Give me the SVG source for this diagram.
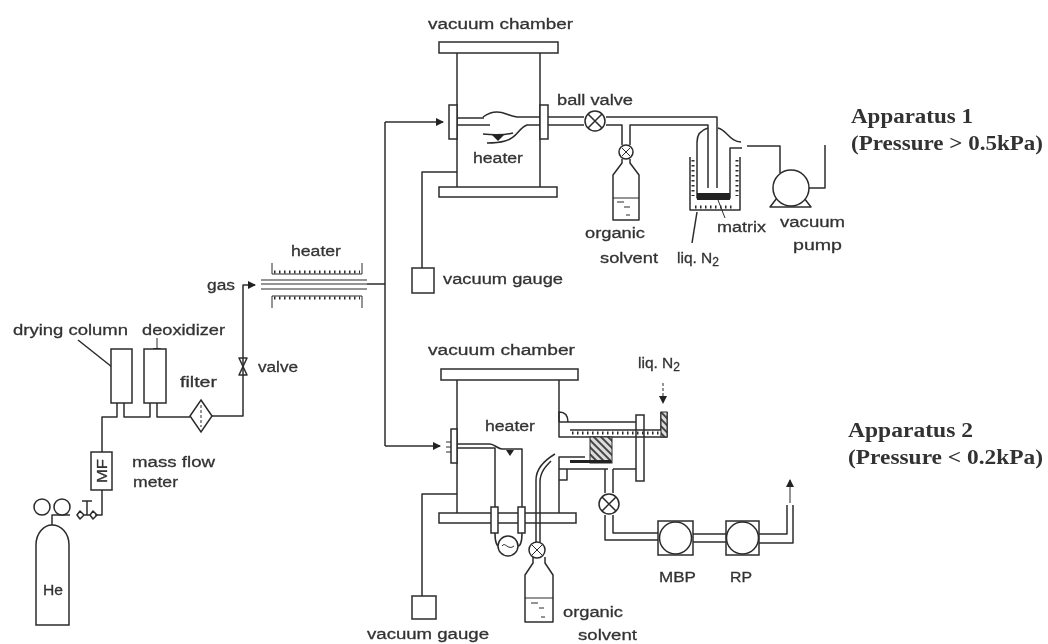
<svg xmlns="http://www.w3.org/2000/svg" width="1048" height="644" viewBox="0 0 1048 644">
<style>
.l{fill:none;stroke:#2b2b2b;stroke-width:1.5;stroke-linejoin:round}
.t{stroke-width:1}
.w{fill:#fff;stroke:#2b2b2b;stroke-width:1.5}
.k{fill:#222;stroke:none}
.d{fill:none;stroke:#2b2b2b;stroke-width:3;stroke-dasharray:1.500 3.500}
text{font-family:"Liberation Sans",Arial,sans-serif;font-size:15.500px;fill:#333;stroke:#333;stroke-width:.3}
.s{font-family:"Liberation Serif","Times New Roman",serif;font-size:20px;fill:#333;font-weight:bold;stroke:none}
</style>
<defs>
<filter id="b" x="0" y="0" width="1048" height="644" filterUnits="userSpaceOnUse"><feGaussianBlur stdDeviation="0.55"/></filter>
<marker id="a" viewBox="0 0 8 8" refX="7" refY="4" markerWidth="8" markerHeight="8" markerUnits="userSpaceOnUse" orient="auto"><path d="M0 0L8 4L0 8Z" fill="#222"/></marker>
<pattern id="h" width="5" height="5" patternUnits="userSpaceOnUse" patternTransform="rotate(-45)"><rect width="5" height="5" fill="#ddd"/><rect width="2" height="5" fill="#444"/></pattern>
<g id="xv"><circle r="10" class="w"/><path class="l" d="M-7 -7L7 7M-7 7L7 -7"/></g>
</defs>
<rect width="1048" height="644" fill="#fff"/>
<g filter="url(#b)">
<g id="connectors">
<path class="l" d="M102 452V417H117V403M124 403V417H150V403M157 403V417H190"/>
<path class="l" marker-end="url(#a)" d="M212 416H243V285H255"/>
<path class="l" d="M102 490V515H95M70 515H52V525"/>
<path class="l" d="M367 284H385M385 122V446"/>
<path class="l" marker-end="url(#a)" d="M385 122H443"/>
<path class="l" marker-end="url(#a)" d="M385 446H440"/>
<path class="l" d="M457 172H422V268"/>
<path class="l" d="M457 494H422V596"/>
<path class="l" d="M747 146H780V173M808 188H825V145"/>
<path class="l t" marker-end="url(#a)" d="M790 503V480"/>
<path class="l" d="M78 340L112 367"/>
<path class="l t" marker-end="url(#a)" d="M157 338V355"/>
<path class="l t" d="M718 200L725 218"/>
<path class="l" d="M697 212L692 243"/>
<path class="l t" stroke-dasharray="3 2" marker-end="url(#a)" d="M663 383V403"/>
</g>
<g id="he-cylinder"><path class="w" d="M36 625V545C36 533 44 525 52 525C61 525 69 533 69 545V625Z"/><text x="43" y="595" textLength="20" lengthAdjust="spacingAndGlyphs">He</text></g>
<g id="gauges"><circle class="w" cx="42" cy="507" r="8"/><circle class="w" cx="62" cy="507" r="8"/></g>
<g id="regulator"><path class="l" d="M77 515L80 511L84 515L80 519ZM90 515L93 511L97 515L93 519ZM84 515H90M87 515V501M82 501H92"/></g>
<g id="mf"><rect class="w" x="91" y="452" width="21" height="38"/><text transform="translate(107,483) rotate(-90)" textLength="24" lengthAdjust="spacingAndGlyphs">MF</text></g>
<g id="drying-column"><rect class="w" x="111" y="349" width="21" height="54"/></g>
<g id="deoxidizer"><rect class="w" x="144" y="349" width="22" height="54"/></g>
<g id="filter"><path class="w" d="M201 400L212 416L201 432L190 416Z"/><path class="l t" stroke-dasharray="3 2" d="M201 405V427"/></g>
<g id="valve"><path class="l" d="M239 358H247L239 375H247Z"/></g>
<g id="gas-heater">
<path class="l t" d="M261 280H367M261 284H367M261 289H367"/>
<path class="l t" d="M272 263V274H362V263"/><path class="d" d="M274 272H360"/>
<path class="l t" d="M272 308V296H362V308"/><path class="d" d="M274 298H360"/>
</g>
<g id="chamber-1">
<rect class="w" x="439" y="42" width="119" height="11"/>
<path class="l" d="M457 53V187M540 53V187"/>
<rect class="w" x="439" y="187" width="118" height="10"/>
<rect class="w" x="449" y="105" width="8" height="34"/>
<rect class="w" x="540" y="105" width="8" height="34"/>
<path class="l" stroke-width="2" d="M457 118H484M457 125H490"/>
<path class="l" d="M540 117H517C508 116 505 112 497 112C491 112 487 114 483 117M540 125H527C518 128 518 138 505 141C498 143 492 143 487 143M483 134C492 135 504 135 513 133"/>
<path class="k" d="M492 135H504L498 141Z"/>
</g>
<g id="ball-valve-1">
<path class="l" d="M548 117H584M548 125H584M606 117H717V188M606 125H622V145M630 145V125H708V188"/>
<use href="#xv" x="595" y="121"/>
</g>
<g id="organic-1">
<path class="l" d="M622 159V163L613 175V220H639V175L630 163V159"/>
<path class="l t" d="M613 198H639M617 202H624M624 207H630M626 215H630"/>
<circle class="w" cx="626" cy="152" r="7"/><path class="l t" d="M622 148L630 156M622 156L630 148"/>
</g>
<g id="trap">
<path class="l" d="M708 128C701 130 697 135 697 142V198H730V148H742M718 128C727 130 730 142 741 142"/>
<path class="k" d="M697 193H730V200H697Z"/>
<path class="l" d="M690 157V210H740V157"/>
<path class="d" d="M693 160V196M737 160V196M695 207H735"/>
</g>
<g id="pump-1"><path class="l" d="M777 198L770 207H811L804 198"/><circle class="w" cx="791" cy="188" r="18"/></g>
<g id="gauge-1"><rect class="w" x="412" y="268" width="22" height="25"/></g>
<g id="chamber-2">
<rect class="w" x="441" y="369" width="137" height="11"/>
<path class="l" d="M457 380V513M559 380V437H577M559 513V457H585"/>
<rect class="w" x="439" y="513" width="137" height="10"/>
<rect class="w" x="451" y="429" width="6" height="34"/>
<path class="l t" d="M446 442H451M446 447H451M446 452H451"/>
</g>
<g id="heater-2">
<path class="l" d="M457 444H490C494 444 498 449 502 449H522V507M457 448H495V507"/>
<path class="k" d="M506 450H514L510 456Z"/>
<rect class="w" x="491" y="507" width="7" height="26"/><rect class="w" x="518" y="507" width="7" height="26"/>
<path class="l" d="M495 533C495 542 497 546 499 546M522 533C522 542 520 546 518 546"/>
<circle class="w" cx="508" cy="546" r="10"/><path class="l t" d="M502 546C505 541 508 551 514 546"/>
</g>
<g id="organic-2">
<path class="l" d="M536 542V480C536 468 545 460 555 454M540 542V482C540 472 546 466 551 461"/>
<path class="l" d="M533 557V563L525 575V622H553V575L545 563V557"/>
<path class="l t" d="M525 598H553M531 603H538M539 608H544M541 617H545"/>
<circle class="w" cx="537" cy="550" r="8"/><path class="l t" d="M532 545L542 555M532 555L542 545"/>
</g>
<g id="cold-head">
<path class="l" d="M559 422H636M559 422V412C564 412 568 415 568 422M559 469H608M613 469H636M559 480H567V469"/>
<rect class="w" x="636" y="415" width="8" height="66"/>
<path class="l" d="M570 430H661V412M667 412V437H577"/>
<path class="d" d="M572 433H664"/>
<rect x="590" y="437" width="22" height="26" fill="url(#h)" stroke="#2b2b2b"/>
<path class="k" d="M570 460H611V463H570Z"/>
<rect x="661" y="412" width="6" height="25" fill="url(#h)" stroke="#2b2b2b"/>
<path class="l" d="M605 469V493M613 469V493M605 515V540H658M613 515V533H658"/>
<use href="#xv" x="609" y="504"/>
</g>
<g id="mbp"><rect class="w" x="658" y="521" width="35" height="34"/><circle class="w" cx="675.500" cy="538" r="16"/></g>
<g id="rp"><rect class="w" x="726" y="521" width="33" height="34"/><circle class="w" cx="742.500" cy="538" r="16"/></g>
<g id="rp-pipes"><path class="l" d="M693 534H726M693 542H726M759 534H787V505M759 543H793V505"/></g>
<g id="gauge-2"><rect class="w" x="412" y="596" width="24" height="23"/></g>
<g id="labels">
<text x="428" y="29" textLength="145" lengthAdjust="spacingAndGlyphs">vacuum chamber</text>
<text x="557" y="105" textLength="76" lengthAdjust="spacingAndGlyphs">ball valve</text>
<text x="473" y="163" textLength="50" lengthAdjust="spacingAndGlyphs">heater</text>
<text x="585" y="238" textLength="60" lengthAdjust="spacingAndGlyphs">organic</text>
<text x="600" y="263" textLength="58" lengthAdjust="spacingAndGlyphs">solvent</text>
<text x="677" y="263">liq. N<tspan font-size="12" dy="3">2</tspan></text>
<text x="717" y="232" textLength="49" lengthAdjust="spacingAndGlyphs">matrix</text>
<text x="780" y="227" textLength="65" lengthAdjust="spacingAndGlyphs">vacuum</text>
<text x="793" y="250" textLength="49" lengthAdjust="spacingAndGlyphs">pump</text>
<text x="443" y="284" textLength="120" lengthAdjust="spacingAndGlyphs">vacuum gauge</text>
<text x="291" y="256" textLength="50" lengthAdjust="spacingAndGlyphs">heater</text>
<text x="207" y="290" textLength="28" lengthAdjust="spacingAndGlyphs">gas</text>
<text x="258" y="372" textLength="40" lengthAdjust="spacingAndGlyphs">valve</text>
<text x="13" y="335" textLength="115" lengthAdjust="spacingAndGlyphs">drying column</text>
<text x="142" y="335" textLength="83" lengthAdjust="spacingAndGlyphs">deoxidizer</text>
<text x="180" y="387" textLength="37" lengthAdjust="spacingAndGlyphs">filter</text>
<text x="132" y="467" textLength="83" lengthAdjust="spacingAndGlyphs">mass flow</text>
<text x="133" y="487" textLength="45" lengthAdjust="spacingAndGlyphs">meter</text>
<text x="428" y="355" textLength="147" lengthAdjust="spacingAndGlyphs">vacuum chamber</text>
<text x="638" y="368">liq. N<tspan font-size="12" dy="3">2</tspan></text>
<text x="485" y="431" textLength="50" lengthAdjust="spacingAndGlyphs">heater</text>
<text x="563" y="617" textLength="60" lengthAdjust="spacingAndGlyphs">organic</text>
<text x="578" y="640" textLength="59" lengthAdjust="spacingAndGlyphs">solvent</text>
<text x="659" y="582" textLength="37" lengthAdjust="spacingAndGlyphs">MBP</text>
<text x="730" y="582" textLength="22" lengthAdjust="spacingAndGlyphs">RP</text>
<text x="367" y="639" textLength="122" lengthAdjust="spacingAndGlyphs">vacuum gauge</text>
<text class="s" x="851" y="123" textLength="122" lengthAdjust="spacingAndGlyphs">Apparatus 1</text>
<text class="s" x="851" y="150" textLength="192" lengthAdjust="spacingAndGlyphs">(Pressure &gt; 0.5kPa)</text>
<text class="s" x="848" y="437" textLength="125" lengthAdjust="spacingAndGlyphs">Apparatus 2</text>
<text class="s" x="848" y="464" textLength="195" lengthAdjust="spacingAndGlyphs">(Pressure &lt; 0.2kPa)</text>
</g>
</g>
</svg>
